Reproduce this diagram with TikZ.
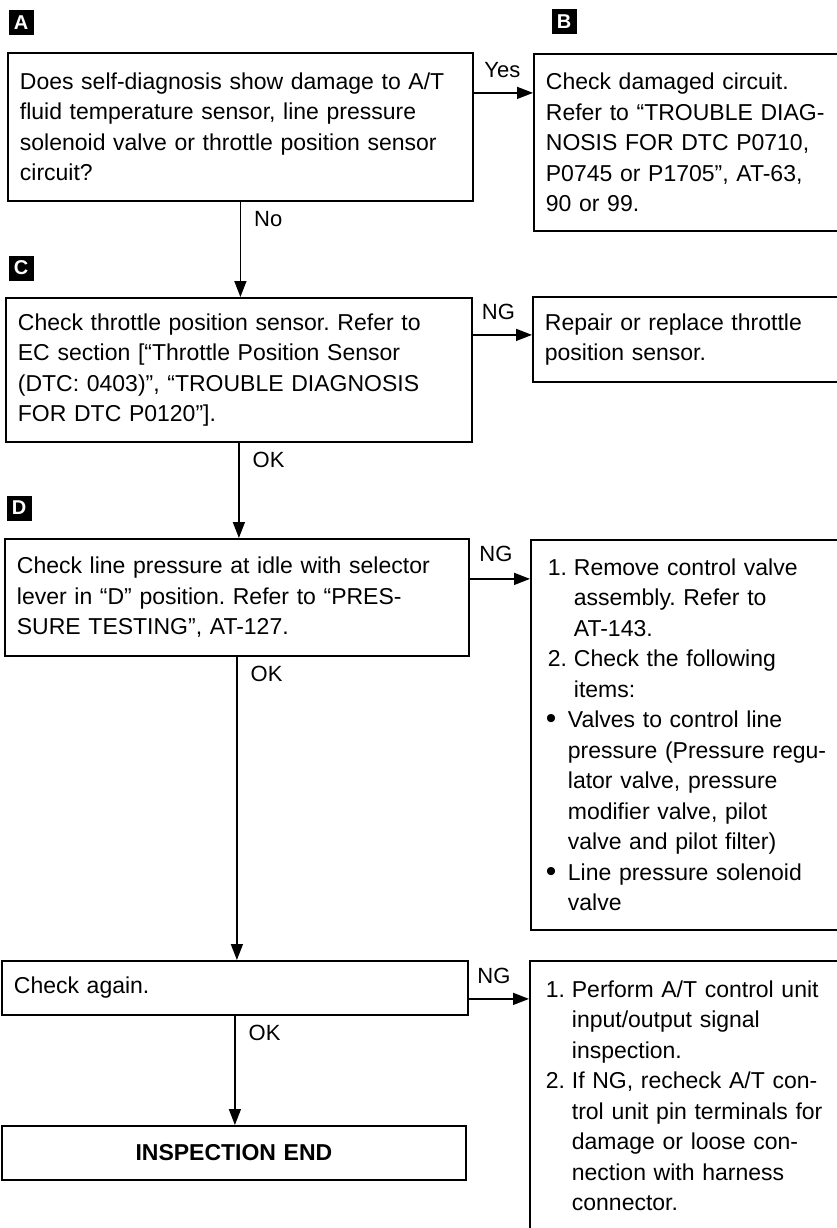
\documentclass[tikz,border=0pt]{standalone}
\usepackage{fontspec}
\setmainfont{Liberation Sans}
\usetikzlibrary{arrows.meta}
\newcommand\mynum[1]{\makebox[26pt][l]{#1}}
\newcommand\myhang{\hspace*{26pt}}
\newcommand\mybul{\makebox[20pt][l]{\hspace*{-2pt}\raisebox{-1pt}{\fontsize{30}{30}\selectfont\textbullet}}}
\newcommand\mybhang{\hspace*{20pt}}
\begin{document}
\frenchspacing
\begin{tikzpicture}[x=1pt,y=-1pt,
  box/.style={draw, line width=1.8pt, anchor=north west, inner xsep=12pt, inner ysep=0pt, align=left,
    font=\fontsize{23}{30.5}\selectfont},
  badge/.style={fill=black, text=white, minimum size=25pt, inner sep=0pt,
    font=\fontsize{20}{20}\selectfont\bfseries},
  conn/.style={line width=1.5pt, -{Triangle[length=16pt,width=12pt]}},
  lab/.style={font=\fontsize{22}{22}\selectfont, inner sep=0pt}]
\useasboundingbox (0,0) rectangle (837,1228);
\begin{scope}
\clip (0,0) rectangle (837,1228);
% badges
\node[badge] (ba) at (21,23) {A};
\node[badge] (bb) at (564,22) {B};
\node[badge] (bc) at (21,268) {C};
\node[badge] (bd) at (19,508) {D};
% boxes
\node[box, minimum width=465pt, minimum height=148pt, text width=441pt] (qa) at (7,52)
 {Does self-diagnosis show damage to A/T\\fluid temperature sensor, line pressure\\solenoid valve or throttle position sensor\\circuit?};
\node[box, minimum width=340pt, minimum height=177pt, text width=316pt] (qb) at (533,53)
 {Check damaged circuit.\\Refer to “TROUBLE DIAG-\\NOSIS FOR DTC P0710,\\P0745 or P1705”, AT-63,\\90 or 99.};
\node[box, minimum width=466pt, minimum height=144pt, text width=442pt] (qc) at (5,297)
 {Check throttle position sensor. Refer to\\EC section [“Throttle Position Sensor\\(DTC: 0403)”, “TROUBLE DIAGNOSIS\\FOR DTC P0120”].};
\node[box, minimum width=340pt, minimum height=85pt, text width=316pt] (qr) at (532,296)
 {Repair or replace throttle\\position sensor.};
\node[box, minimum width=464pt, minimum height=117pt, text width=440pt] (qd) at (4,538)
 {Check line pressure at idle with selector\\lever in “D” position. Refer to “PRES-\\SURE TESTING”, AT-127.};
\node[box, inner xsep=17pt, minimum width=340pt, minimum height=390pt, text width=306pt] (qv) at (530,539)
 {\mynum{1.}Remove control valve\\\myhang assembly. Refer to\\\myhang AT-143.\\\mynum{2.}Check the following\\\myhang items:\\\mybul Valves to control line\\\mybhang pressure (Pressure regu-\\\mybhang lator valve, pressure\\\mybhang modifier valve, pilot\\\mybhang valve and pilot filter)\\\mybul Line pressure solenoid\\\mybhang valve};
\node[box, minimum width=466pt, minimum height=54pt, text width=442pt] (qg) at (1,960)
 {Check again.};
\node[box, inner xsep=16pt, minimum width=340pt, minimum height=270pt, text width=308pt] (qe) at (529,960)
 {\mynum{1.}Perform A/T control unit\\\myhang input/output signal\\\myhang inspection.\\\mynum{2.}If NG, recheck A/T con-\\\myhang trol unit pin terminals for\\\myhang damage or loose con-\\\myhang nection with harness\\\myhang connector.};
\node[box, align=center, minimum width=464pt, minimum height=54pt, text width=440pt,
  font=\fontsize{23}{28}\selectfont\bfseries] (qend) at (1,1125) {INSPECTION END};
\end{scope}
% connectors
\coordinate (ya) at ([yshift=34pt]qa.east);
\draw[conn] (ya) -- node[lab, anchor=base, xshift=-1pt, yshift=15pt]{Yes} (ya -| qb.west);
\draw[conn] (qa.south) -- node[lab, pos=0, anchor=base west, xshift=13pt, yshift=-25pt]{No} (qa.south |- qc.north);
\coordinate (yc) at ([yshift=35pt]qc.east);
\draw[conn] (yc) -- node[lab, anchor=base, xshift=-4pt, yshift=15pt]{NG} (yc -| qr.west);
\draw[conn] (qc.south) -- node[lab, pos=0, anchor=base west, xshift=13pt, yshift=-25pt]{OK} (qc.south |- qd.north);
\coordinate (yd) at ([yshift=18.5pt]qd.east);
\draw[conn] (yd) -- node[lab, anchor=base, xshift=-4pt, yshift=17pt]{NG} (yd -| qv.west);
\draw[conn] (qd.south) -- node[lab, pos=0, anchor=base west, xshift=13pt, yshift=-25pt]{OK} (qd.south |- qg.north);
\coordinate (yg) at ([yshift=-11pt]qg.east);
\draw[conn] (yg) -- node[lab, anchor=base, xshift=-5pt, yshift=15pt]{NG} (yg -| qe.west);
\draw[conn] (qg.south) -- node[lab, pos=0, anchor=base west, xshift=13pt, yshift=-25pt]{OK} (qg.south |- qend.north);
\end{tikzpicture}
\end{document}
